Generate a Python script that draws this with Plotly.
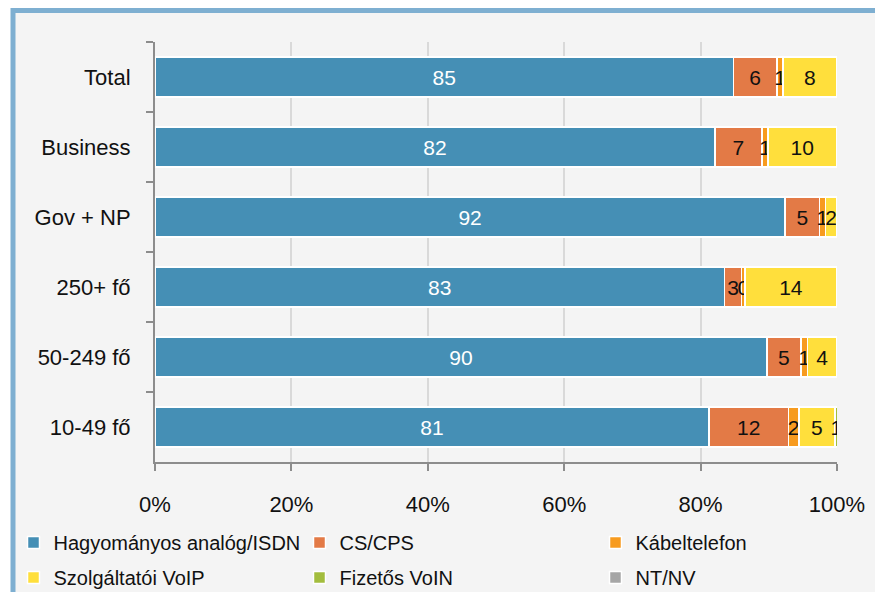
import plotly.graph_objects as go

categories = ["Total", "Business", "Gov + NP", "250+ fő", "50-249 fő", "10-49 fő"]

series_names = ["Hagyományos analóg/ISDN", "CS/CPS", "Kábeltelefon",
                "Szolgáltatói VoIP", "Fizetős VoIN", "NT/NV"]

# values (percent of respondents)
analog_isdn = [84.8, 82.1, 92.4, 83.5, 89.7, 81.2]
cs_cps = [6.4, 6.9, 5.0, 2.5, 5.0, 11.7]
kabeltelefon = [0.9, 0.9, 0.9, 0.5, 1.0, 1.5]
szolg_voip = [7.8, 10.0, 1.7, 13.5, 4.3, 5.3]
fizetos_voin = [0, 0, 0, 0, 0, 0.4]
nt_nv = [0, 0, 0, 0, 0, 0]

# labels as printed on the bars
analog_lbl = ["85", "82", "92", "83", "90", "81"]
cs_lbl = ["6", "7", "5", "3", "5", "12"]
kabel_lbl = ["1", "1", "1", "0", "1", "2"]
voip_lbl = ["8", "10", "2", "14", "4", "5"]
voin_lbl = ["", "", "", "", "", "1"]
ntnv_lbl = ["", "", "", "", "", ""]

colors = ["#458FB5", "#E37A46", "#F79B1F", "#FFDF3C", "#A3BD3E", "#A6A6A6"]
values = [analog_isdn, cs_cps, kabeltelefon, szolg_voip, fizetos_voin, nt_nv]
labels = [analog_lbl, cs_lbl, kabel_lbl, voip_lbl, voin_lbl, ntnv_lbl]
text_colors = ["white", "#111111", "#111111", "#111111", "#111111", "#111111"]
# legend column for each series (3 columns, 2 rows)
legend_ids = ["legend", "legend2", "legend3", "legend", "legend2", "legend3"]

FONT = "Liberation Sans Narrow, Arial Narrow, Liberation Sans, Arial, sans-serif"

fig = go.Figure()
for i, (name, vals, lbl, col, tc, lg) in enumerate(
        zip(series_names, values, labels, colors, text_colors, legend_ids)):
    fig.add_trace(go.Bar(
        y=categories, x=vals, name=name, orientation="h",
        marker=dict(color=col, line=dict(color="white", width=1.5)),
        text=lbl, textposition="inside", insidetextanchor="middle",
        constraintext="none", textangle=0,
        textfont=dict(color=tc, size=21, family=FONT),
        hoverinfo="name+x", legend=lg, legendgroup="g%d" % i,
    ))

W, H = 875, 592
L, T = 155, 42
pw, ph = 682, 420
R, B = W - L - pw, H - T - ph

def px(fx):
    return (fx - L) / pw

def py(fy):
    return (T + ph - fy) / ph

# outer frame of the chart area (only its left and top edges are in view)
fig.add_shape(type="rect", xref="paper", yref="paper",
              x0=px(13), x1=px(W + 150), y0=py(H + 150), y1=py(10.5),
              line=dict(color="#7EAFD1", width=5), fillcolor="#F4F4F4", layer="below")

leg_common = dict(orientation="v", xref="container", yref="container",
                  yanchor="top", xanchor="left",
                  font=dict(size=20, family=FONT, color="#111111"),
                  bgcolor="rgba(0,0,0,0)", traceorder="grouped",
                  tracegroupgap=6, itemclick=False, itemdoubleclick=False)
leg_y = 1 - 523 / H

fig.update_layout(
    width=W, height=H,
    margin=dict(l=L, r=R, t=T, b=B, autoexpand=False),
    paper_bgcolor="white", plot_bgcolor="rgba(0,0,0,0)",
    barmode="stack", bargap=0.43,
    font=dict(family=FONT, size=20, color="#111111"),
    showlegend=True,
    legend=dict(x=13.5 / W, y=leg_y, **leg_common),
    legend2=dict(x=299.5 / W, y=leg_y, **leg_common),
    legend3=dict(x=595.5 / W, y=leg_y, **leg_common),
    xaxis=dict(range=[0, 100], dtick=20, ticksuffix="%", showgrid=True,
               gridcolor="#D9D9D9", gridwidth=2, zeroline=False,
               showline=True, linecolor="#8C8C8C", linewidth=2,
               ticks="outside", ticklen=7, tickwidth=2, tickcolor="#8C8C8C",
               ticklabelstandoff=15, tickfont=dict(size=22)),
    yaxis=dict(categoryorder="array", categoryarray=categories, autorange="reversed",
               showline=True, linecolor="#8C8C8C", linewidth=2,
               ticks="outside", ticklen=7, tickwidth=2, tickcolor="#8C8C8C",
               tickson="boundaries", showgrid=False,
               ticklabelstandoff=18, tickfont=dict(size=22)),
)

fig.write_html("out.html", config={"displayModeBar": False},
               post_script="document.body.style.margin='0';document.body.style.overflow='hidden';")
